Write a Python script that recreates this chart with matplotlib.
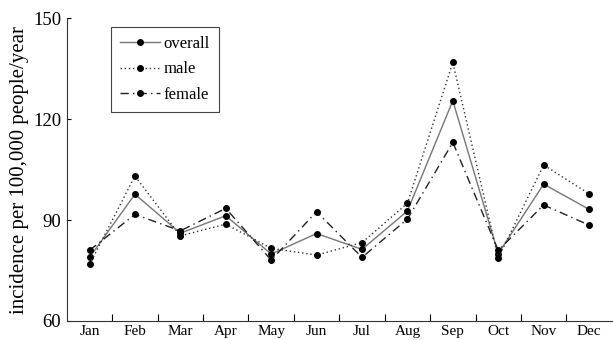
import numpy as np
import matplotlib
matplotlib.use("Agg")
import matplotlib.pyplot as plt

plt.rcParams['font.family'] = ['Liberation Serif', 'DejaVu Serif']

months = ['Jan', 'Feb', 'Mar', 'Apr', 'May', 'Jun', 'Jul', 'Aug', 'Sep', 'Oct', 'Nov', 'Dec']
overall = [78.9, 97.7, 86.1, 91.3, 79.9, 86.0, 81.3, 92.7, 125.5, 80.0, 100.7, 93.2]
male = [76.8, 103.1, 85.3, 88.8, 81.6, 79.6, 83.3, 95.0, 136.9, 78.7, 106.4, 97.8]
female = [81.0, 91.7, 86.8, 93.5, 78.1, 92.5, 78.9, 90.3, 113.1, 81.0, 94.5, 88.5]

x = np.arange(1, len(months) + 1)

fig = plt.figure(figsize=(6.13, 3.40), dpi=100)
ax = fig.add_axes([0.109, 0.056, 0.889, 0.89])

ax.plot(x, overall, color='#777777', lw=1.0, marker='o', ms=4,
        mfc='black', mec='black', label='overall')
ax.plot(x, male, color='#333333', lw=1.0, ls=(0, (1, 2)), marker='o', ms=4,
        mfc='black', mec='black', label='male')
ax.plot(x, female, color='#222222', lw=1.0, ls=(0, (6, 3, 1, 3)), marker='o', ms=4,
        mfc='black', mec='black', label='female')

ax.set_xlim(0.5, 12.5)
ax.set_ylim(60, 150)
ax.set_yticks([60, 90, 120, 150])
ax.set_xticks(x)
ax.set_xticklabels(months)
ax.set_xticks(np.arange(1.5, 12.5, 1), minor=True)
ax.tick_params(axis='x', which='major', length=0, labelsize=11, pad=3)
ax.tick_params(axis='x', which='minor', direction='in', length=5, width=0.8)
ax.tick_params(axis='y', direction='in', length=3, width=0.8, labelsize=13.5, pad=4)

for s in ['top', 'right']:
    ax.spines[s].set_visible(False)
for s in ['left', 'bottom']:
    ax.spines[s].set_linewidth(0.8)
    ax.spines[s].set_color('#333333')

ax.set_ylabel('incidence per 100,000 people/year', fontsize=15, labelpad=3)

leg = ax.legend(loc='upper left', bbox_to_anchor=(0.081, 0.971), borderaxespad=0,
                fontsize=12, handlelength=2.4, handletextpad=0.2, labelspacing=0.55,
                borderpad=0.55, fancybox=False, framealpha=1, edgecolor='#444444')
leg.get_frame().set_linewidth(0.8)

fig.savefig('out.png', dpi=100)
